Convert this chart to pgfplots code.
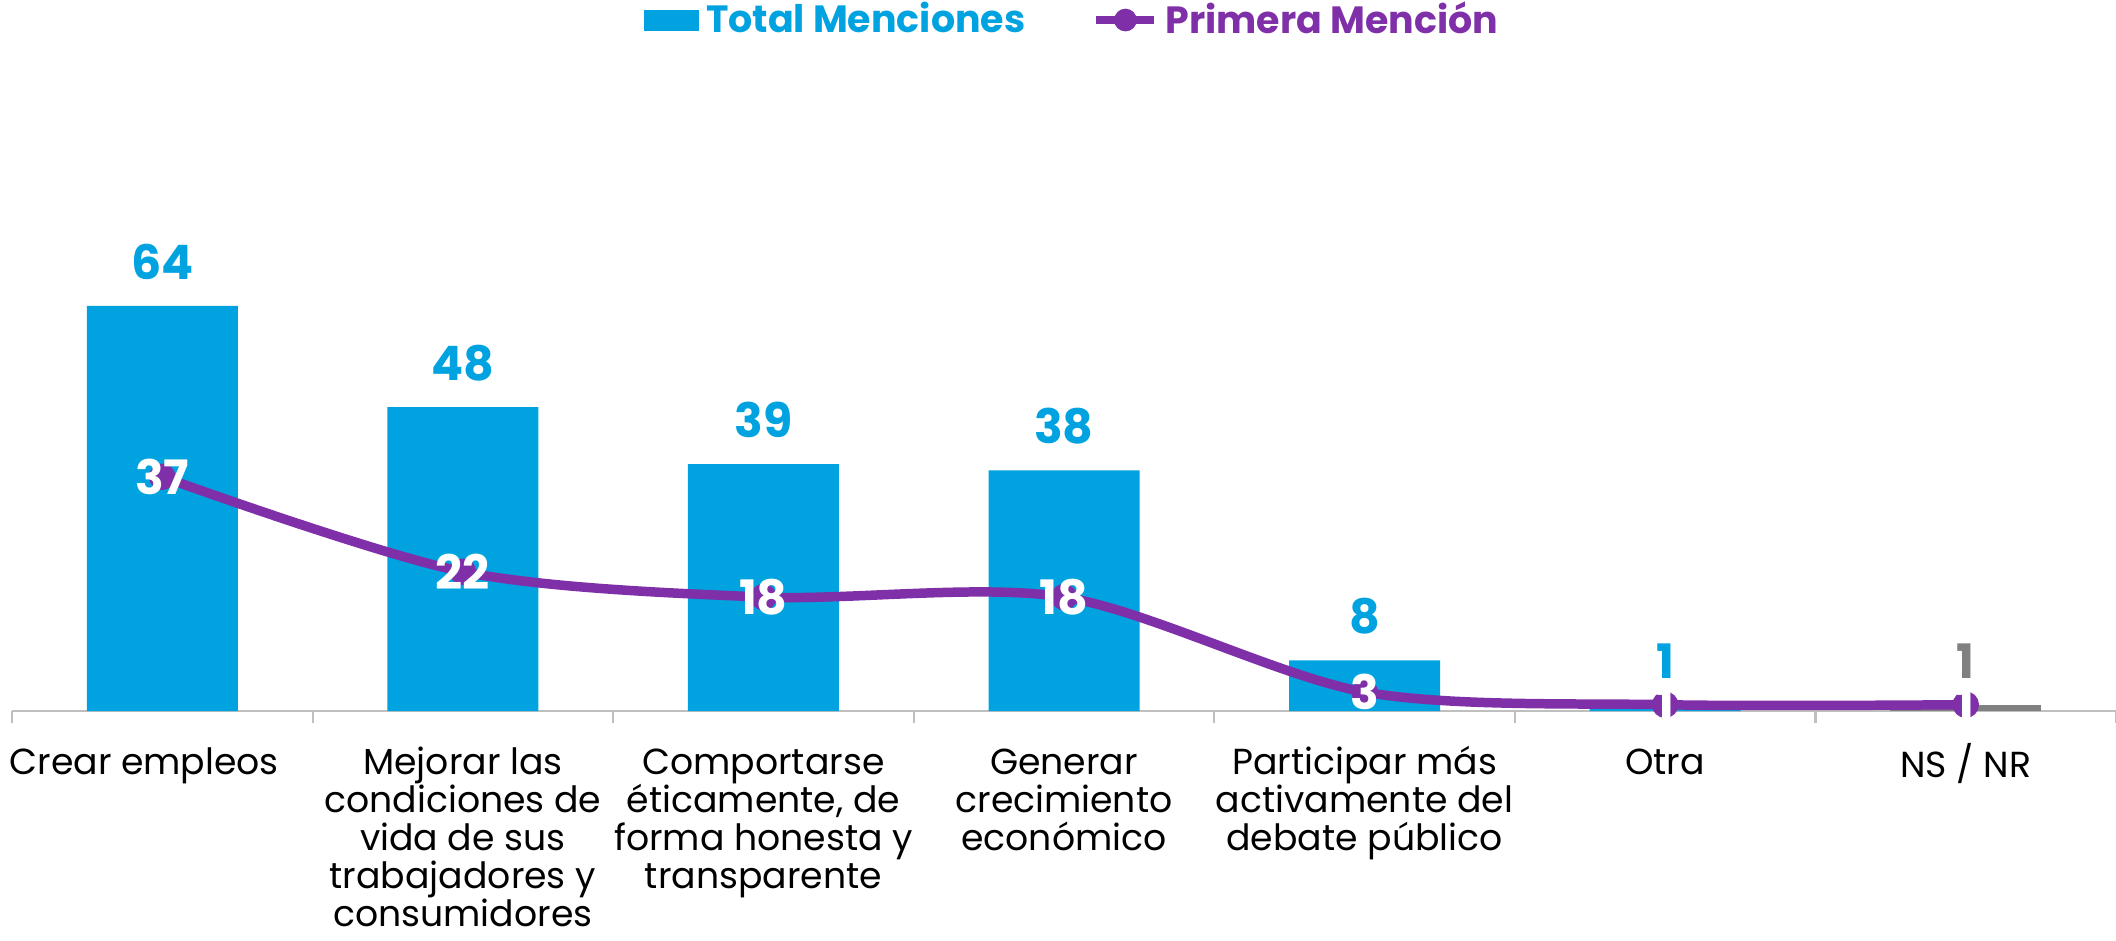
\documentclass[border=0pt]{standalone}
\usepackage{fontspec}
\setmainfont{Poppins}
\usepackage{pgfplots}
\pgfplotsset{compat=1.18}
\definecolor{barblue}{HTML}{00A3E0}
\definecolor{bargray}{HTML}{808080}
\definecolor{linepurple}{HTML}{7F30A8}
\definecolor{axisgray}{HTML}{BFBFBF}
\newcommand{\fl}{\rule{0pt}{9pt}}
\begin{document}
\begin{tikzpicture}
\begin{axis}[
  name=ax,
  scale only axis, width=21.04cm, height=6.33cm,
  xmin=-0.5, xmax=6.5, ymin=0, ymax=100,
  axis y line=none, axis x line*=bottom,
  x axis line style={axisgray, line width=0.8pt, -},
  /pgf/number format/assume math mode=true,
  xtick={0,...,6},
  xticklabels={{\fl Crear empleos\hspace*{0.36cm}},
    {\fl Mejorar las\\condiciones de\\vida de sus\\trabajadores y\\consumidores},
    {\fl Comportarse\\éticamente, de\\forma honesta y\\transparente},
    {\fl Generar\\crecimiento\\económico},
    {\fl Participar más\\activamente del\\debate público},
    {\fl Otra}, {\fl NS / NR}},
  major tick length=0pt,
  minor xtick={-0.5,0.5,1.5,2.5,3.5,4.5,5.5,6.5},
  minor tick length=0.12cm,
  tick align=outside,
  minor tick style={axisgray, line width=0.6pt},
  xticklabel style={align=center, anchor=north, inner sep=0pt, font=\fontsize{10.3}{10.8}\selectfont, text=black, yshift=-9pt},
  legend style={at={(0.505,1.0916)}, anchor=center, draw=none, legend columns=2,
    font=\bfseries\fontsize{10.8}{12}\selectfont,
    /tikz/every even column/.append style={column sep=0.6cm}},
  clip=false,
]
\addplot[ybar, bar width=1.51cm, bar shift=0pt, fill=barblue, draw=none,
  legend image code/.code={\fill[barblue] (0cm,-0.105cm) rectangle (0.55cm,0.105cm);},
  nodes near coords,
  every node near coord/.append style={anchor=south, inner sep=0pt, yshift=0.255cm,
    text=barblue, font=\bfseries\fontsize{13.5}{14}\selectfont}]
  coordinates {(0,64) (1,48) (2,39) (3,38) (4,8) (5,1)};
\addlegendentry{\textcolor{barblue}{Total Menciones}}
\addplot[ybar, bar width=1.51cm, bar shift=0pt, fill=bargray, draw=none, forget plot,
  nodes near coords,
  every node near coord/.append style={anchor=south, inner sep=0pt, yshift=0.255cm,
    text=bargray, font=\bfseries\fontsize{13.5}{14}\selectfont}]
  coordinates {(6,1)};
\addplot[linepurple, line width=2.7pt, smooth, mark=*, mark size=2.4pt,
  mark options={fill=linepurple, draw=linepurple},
  legend image code/.code={\draw[linepurple,line width=0.08cm] (0cm,0cm) -- (0.58cm,0cm); \fill[linepurple] (0.29cm,0cm) circle (0.065cm);},
  nodes near coords,
  every node near coord/.append style={anchor=center, inner sep=0pt,
    text=white, font=\bfseries\fontsize{13.5}{14}\selectfont}]
  coordinates {(0,37) (1,22) (2,18) (3,18) (4,3) (5,1) (6,1)};
\addlegendentry{\textcolor{linepurple}{Primera Mención}}
\end{axis}
\pgfresetboundingbox
\path ([xshift=-0.12cm,yshift=-2.29cm]ax.south west) rectangle ([yshift=0.78cm]ax.north east);
\end{tikzpicture}
\end{document}
